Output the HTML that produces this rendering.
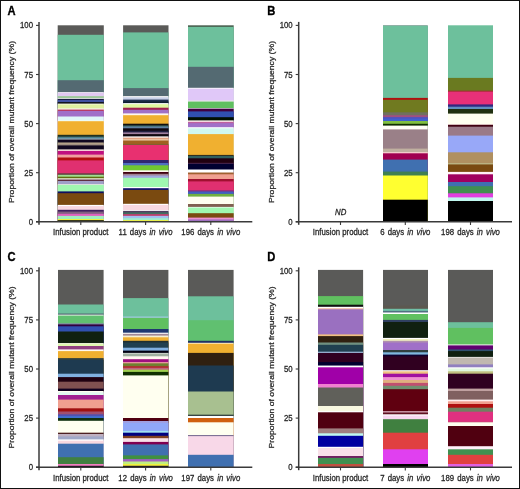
<!DOCTYPE html>
<html><head><meta charset="utf-8"><style>
html,body{margin:0;padding:0;background:#fff;}
body{width:520px;height:489px;overflow:hidden;}
svg{display:block;font-family:"Liberation Sans",sans-serif;}
</style></head><body>
<svg style="will-change:transform" width="520" height="489" viewBox="0 0 520 489">
<rect x="0" y="0" width="520" height="489" fill="#fff"/>
<rect x="57.7" y="25.3" width="46.1" height="196.00" fill="#5a5a58"/>
<rect x="57.7" y="34.8" width="46.1" height="186.50" fill="#6dc09c"/>
<rect x="57.7" y="80.2" width="46.1" height="141.10" fill="#546a72"/>
<rect x="57.7" y="92.1" width="46.1" height="129.20" fill="#f4eef8"/>
<rect x="57.7" y="92.9" width="46.1" height="128.40" fill="#e0c8f0"/>
<rect x="57.7" y="96.1" width="46.1" height="125.20" fill="#9ec89a"/>
<rect x="57.7" y="98.1" width="46.1" height="123.20" fill="#f0f0f0"/>
<rect x="57.7" y="98.9" width="46.1" height="122.40" fill="#101030"/>
<rect x="57.7" y="99.8" width="46.1" height="121.50" fill="#4050a0"/>
<rect x="57.7" y="102.1" width="46.1" height="119.20" fill="#101010"/>
<rect x="57.7" y="103.6" width="46.1" height="117.70" fill="#fffff0"/>
<rect x="57.7" y="104.4" width="46.1" height="116.90" fill="#e0f0a0"/>
<rect x="57.7" y="108.4" width="46.1" height="112.90" fill="#f8f0f0"/>
<rect x="57.7" y="109.6" width="46.1" height="111.70" fill="#c03050"/>
<rect x="57.7" y="110.8" width="46.1" height="110.50" fill="#a070c8"/>
<rect x="57.7" y="116.5" width="46.1" height="104.80" fill="#e0f8f8"/>
<rect x="57.7" y="120.6" width="46.1" height="100.70" fill="#fffff0"/>
<rect x="57.7" y="121.2" width="46.1" height="100.10" fill="#f0b030"/>
<rect x="57.7" y="134.8" width="46.1" height="86.50" fill="#203020"/>
<rect x="57.7" y="136.7" width="46.1" height="84.60" fill="#4a8090"/>
<rect x="57.7" y="138.5" width="46.1" height="82.80" fill="#a0b0c0"/>
<rect x="57.7" y="139.6" width="46.1" height="81.70" fill="#100820"/>
<rect x="57.7" y="142.5" width="46.1" height="78.80" fill="#c0b090"/>
<rect x="57.7" y="143.6" width="46.1" height="77.70" fill="#a09080"/>
<rect x="57.7" y="145.4" width="46.1" height="75.90" fill="#100820"/>
<rect x="57.7" y="149.4" width="46.1" height="71.90" fill="#f8e8e0"/>
<rect x="57.7" y="150.9" width="46.1" height="70.40" fill="#c01080"/>
<rect x="57.7" y="154.6" width="46.1" height="66.70" fill="#f0a0a0"/>
<rect x="57.7" y="157.5" width="46.1" height="63.80" fill="#b01010"/>
<rect x="57.7" y="160.4" width="46.1" height="60.90" fill="#e03070"/>
<rect x="57.7" y="173.3" width="46.1" height="48.00" fill="#604040"/>
<rect x="57.7" y="174.8" width="46.1" height="46.50" fill="#a0e090"/>
<rect x="57.7" y="176.7" width="46.1" height="44.60" fill="#607010"/>
<rect x="57.7" y="178.3" width="46.1" height="43.00" fill="#f8f8f0"/>
<rect x="57.7" y="179.5" width="46.1" height="41.80" fill="#603040"/>
<rect x="57.7" y="181.0" width="46.1" height="40.30" fill="#a0a0c8"/>
<rect x="57.7" y="184.0" width="46.1" height="37.30" fill="#e0e0e0"/>
<rect x="57.7" y="184.9" width="46.1" height="36.40" fill="#a0f8b0"/>
<rect x="57.7" y="191.4" width="46.1" height="29.90" fill="#101060"/>
<rect x="57.7" y="193.2" width="46.1" height="28.10" fill="#7a4a10"/>
<rect x="57.7" y="204.9" width="46.1" height="16.40" fill="#ffffff"/>
<rect x="57.7" y="206.1" width="46.1" height="15.20" fill="#f8d8e0"/>
<rect x="57.7" y="209.8" width="46.1" height="11.50" fill="#402060"/>
<rect x="57.7" y="211.6" width="46.1" height="9.70" fill="#806080"/>
<rect x="57.7" y="213.8" width="46.1" height="7.50" fill="#e060c0"/>
<rect x="57.7" y="215.9" width="46.1" height="5.40" fill="#a0f0c0"/>
<rect x="57.7" y="219.0" width="46.1" height="2.30" fill="#f0f040"/>
<rect x="57.7" y="220.2" width="46.1" height="1.10" fill="#101010"/>
<rect x="123.1" y="25.3" width="45.4" height="196.00" fill="#5a5a58"/>
<rect x="123.1" y="32.4" width="45.4" height="188.90" fill="#6dc09c"/>
<rect x="123.1" y="88.1" width="45.4" height="133.20" fill="#546a72"/>
<rect x="123.1" y="96.1" width="45.4" height="125.20" fill="#f8f8f8"/>
<rect x="123.1" y="97.3" width="45.4" height="124.00" fill="#c8d0e8"/>
<rect x="123.1" y="99.6" width="45.4" height="121.70" fill="#203050"/>
<rect x="123.1" y="101.5" width="45.4" height="119.80" fill="#102030"/>
<rect x="123.1" y="103.1" width="45.4" height="118.20" fill="#ffffff"/>
<rect x="123.1" y="104.2" width="45.4" height="117.10" fill="#e0f8a0"/>
<rect x="123.1" y="107.7" width="45.4" height="113.60" fill="#a02050"/>
<rect x="123.1" y="109.8" width="45.4" height="111.50" fill="#a070c8"/>
<rect x="123.1" y="113.4" width="45.4" height="107.90" fill="#fff8f0"/>
<rect x="123.1" y="115.2" width="45.4" height="106.10" fill="#f0b030"/>
<rect x="123.1" y="123.7" width="45.4" height="97.60" fill="#101010"/>
<rect x="123.1" y="125.5" width="45.4" height="95.80" fill="#407070"/>
<rect x="123.1" y="126.6" width="45.4" height="94.70" fill="#6080a0"/>
<rect x="123.1" y="128.3" width="45.4" height="93.00" fill="#100810"/>
<rect x="123.1" y="130.7" width="45.4" height="90.60" fill="#202040"/>
<rect x="123.1" y="132.4" width="45.4" height="88.90" fill="#a080a0"/>
<rect x="123.1" y="134.1" width="45.4" height="87.20" fill="#100810"/>
<rect x="123.1" y="136.4" width="45.4" height="84.90" fill="#ffffff"/>
<rect x="123.1" y="137.6" width="45.4" height="83.70" fill="#e0a080"/>
<rect x="123.1" y="139.3" width="45.4" height="82.00" fill="#f0d0b0"/>
<rect x="123.1" y="140.5" width="45.4" height="80.80" fill="#a06020"/>
<rect x="123.1" y="143.9" width="45.4" height="77.40" fill="#806030"/>
<rect x="123.1" y="145.0" width="45.4" height="76.30" fill="#e83070"/>
<rect x="123.1" y="160.0" width="45.4" height="61.30" fill="#302870"/>
<rect x="123.1" y="163.0" width="45.4" height="58.30" fill="#5070c0"/>
<rect x="123.1" y="165.3" width="45.4" height="56.00" fill="#70c830"/>
<rect x="123.1" y="170.3" width="45.4" height="51.00" fill="#fff8f0"/>
<rect x="123.1" y="172.0" width="45.4" height="49.30" fill="#400010"/>
<rect x="123.1" y="173.8" width="45.4" height="47.50" fill="#a08090"/>
<rect x="123.1" y="175.5" width="45.4" height="45.80" fill="#a0a8e0"/>
<rect x="123.1" y="177.8" width="45.4" height="43.50" fill="#a0f8b0"/>
<rect x="123.1" y="187.0" width="45.4" height="34.30" fill="#ffffff"/>
<rect x="123.1" y="188.2" width="45.4" height="33.10" fill="#101070"/>
<rect x="123.1" y="189.9" width="45.4" height="31.40" fill="#7a4a10"/>
<rect x="123.1" y="203.8" width="45.4" height="17.50" fill="#ffffff"/>
<rect x="123.1" y="204.9" width="45.4" height="16.40" fill="#f8d8e0"/>
<rect x="123.1" y="210.1" width="45.4" height="11.20" fill="#ffffff"/>
<rect x="123.1" y="210.9" width="45.4" height="10.40" fill="#504060"/>
<rect x="123.1" y="212.4" width="45.4" height="8.90" fill="#407060"/>
<rect x="123.1" y="214.1" width="45.4" height="7.20" fill="#c04070"/>
<rect x="123.1" y="215.9" width="45.4" height="5.40" fill="#a0c0f0"/>
<rect x="123.1" y="218.2" width="45.4" height="3.10" fill="#a0f0d0"/>
<rect x="123.1" y="220.1" width="45.4" height="1.20" fill="#f0f040"/>
<rect x="188.0" y="25.3" width="45.7" height="196.00" fill="#4a6050"/>
<rect x="188.0" y="26.9" width="45.7" height="194.40" fill="#6dc09c"/>
<rect x="188.0" y="66.8" width="45.7" height="154.50" fill="#546a72"/>
<rect x="188.0" y="87.8" width="45.7" height="133.50" fill="#ffffff"/>
<rect x="188.0" y="88.6" width="45.7" height="132.70" fill="#e0c8f8"/>
<rect x="188.0" y="100.5" width="45.7" height="120.80" fill="#e8e8e8"/>
<rect x="188.0" y="101.6" width="45.7" height="119.70" fill="#60c060"/>
<rect x="188.0" y="108.0" width="45.7" height="113.30" fill="#ffffff"/>
<rect x="188.0" y="108.6" width="45.7" height="112.70" fill="#400040"/>
<rect x="188.0" y="111.4" width="45.7" height="109.90" fill="#3050b0"/>
<rect x="188.0" y="117.2" width="45.7" height="104.10" fill="#001000"/>
<rect x="188.0" y="120.4" width="45.7" height="100.90" fill="#fff8f0"/>
<rect x="188.0" y="121.8" width="45.7" height="99.50" fill="#c060a0"/>
<rect x="188.0" y="123.2" width="45.7" height="98.10" fill="#a070c8"/>
<rect x="188.0" y="127.2" width="45.7" height="94.10" fill="#ffffff"/>
<rect x="188.0" y="128.3" width="45.7" height="93.00" fill="#d0f8f0"/>
<rect x="188.0" y="134.1" width="45.7" height="87.20" fill="#f0b030"/>
<rect x="188.0" y="154.9" width="45.7" height="66.40" fill="#303020"/>
<rect x="188.0" y="156.0" width="45.7" height="65.30" fill="#306060"/>
<rect x="188.0" y="158.3" width="45.7" height="63.00" fill="#200010"/>
<rect x="188.0" y="162.9" width="45.7" height="58.40" fill="#804060"/>
<rect x="188.0" y="163.5" width="45.7" height="57.80" fill="#000030"/>
<rect x="188.0" y="169.5" width="45.7" height="51.80" fill="#ffffff"/>
<rect x="188.0" y="172.5" width="45.7" height="48.80" fill="#a06030"/>
<rect x="188.0" y="174.3" width="45.7" height="47.00" fill="#f0a090"/>
<rect x="188.0" y="179.0" width="45.7" height="42.30" fill="#a01030"/>
<rect x="188.0" y="181.4" width="45.7" height="39.90" fill="#e03070"/>
<rect x="188.0" y="190.3" width="45.7" height="31.00" fill="#803080"/>
<rect x="188.0" y="191.5" width="45.7" height="29.80" fill="#4060c0"/>
<rect x="188.0" y="193.9" width="45.7" height="27.40" fill="#70b040"/>
<rect x="188.0" y="196.6" width="45.7" height="24.70" fill="#fffff0"/>
<rect x="188.0" y="204.0" width="45.7" height="17.30" fill="#806050"/>
<rect x="188.0" y="206.9" width="45.7" height="14.40" fill="#ffffff"/>
<rect x="188.0" y="207.5" width="45.7" height="13.80" fill="#a0f8b0"/>
<rect x="188.0" y="213.2" width="45.7" height="8.10" fill="#7a4a10"/>
<rect x="188.0" y="217.6" width="45.7" height="3.70" fill="#f090d0"/>
<rect x="188.0" y="219.4" width="45.7" height="1.90" fill="#a070c0"/>
<rect x="383.0" y="25.3" width="44.8" height="196.00" fill="#609080"/>
<rect x="383.0" y="26.0" width="44.8" height="195.30" fill="#6dc09c"/>
<rect x="383.0" y="97.9" width="44.8" height="123.40" fill="#b01010"/>
<rect x="383.0" y="99.8" width="44.8" height="121.50" fill="#707a20"/>
<rect x="383.0" y="112.3" width="44.8" height="109.00" fill="#707060"/>
<rect x="383.0" y="115.2" width="44.8" height="106.10" fill="#a05080"/>
<rect x="383.0" y="117.1" width="44.8" height="104.20" fill="#5050c0"/>
<rect x="383.0" y="118.6" width="44.8" height="102.70" fill="#4060d0"/>
<rect x="383.0" y="121.0" width="44.8" height="100.30" fill="#80c040"/>
<rect x="383.0" y="123.8" width="44.8" height="97.50" fill="#103000"/>
<rect x="383.0" y="125.6" width="44.8" height="95.70" fill="#fffff8"/>
<rect x="383.0" y="129.4" width="44.8" height="91.90" fill="#9a8088"/>
<rect x="383.0" y="148.6" width="44.8" height="72.70" fill="#c0b0a0"/>
<rect x="383.0" y="152.1" width="44.8" height="69.20" fill="#f8d0d0"/>
<rect x="383.0" y="153.3" width="44.8" height="68.00" fill="#a00050"/>
<rect x="383.0" y="159.6" width="44.8" height="61.70" fill="#4070b0"/>
<rect x="383.0" y="171.6" width="44.8" height="49.70" fill="#408050"/>
<rect x="383.0" y="175.5" width="44.8" height="45.80" fill="#ffff30"/>
<rect x="383.0" y="199.7" width="44.8" height="21.60" fill="#000000"/>
<rect x="448.0" y="25.3" width="45.0" height="196.00" fill="#6dc09c"/>
<rect x="448.0" y="77.9" width="45.0" height="143.40" fill="#6a7a20"/>
<rect x="448.0" y="90.6" width="45.0" height="130.70" fill="#a03030"/>
<rect x="448.0" y="91.7" width="45.0" height="129.60" fill="#e83078"/>
<rect x="448.0" y="104.4" width="45.0" height="116.90" fill="#302880"/>
<rect x="448.0" y="106.7" width="45.0" height="114.60" fill="#6090c0"/>
<rect x="448.0" y="109.0" width="45.0" height="112.30" fill="#203010"/>
<rect x="448.0" y="113.6" width="45.0" height="107.70" fill="#fffff0"/>
<rect x="448.0" y="124.3" width="45.0" height="97.00" fill="#f8e0e0"/>
<rect x="448.0" y="124.8" width="45.0" height="96.50" fill="#400010"/>
<rect x="448.0" y="126.7" width="45.0" height="94.60" fill="#9a7a88"/>
<rect x="448.0" y="135.6" width="45.0" height="85.70" fill="#98a8f8"/>
<rect x="448.0" y="152.3" width="45.0" height="69.00" fill="#b09060"/>
<rect x="448.0" y="163.3" width="45.0" height="58.00" fill="#c0c090"/>
<rect x="448.0" y="164.4" width="45.0" height="56.90" fill="#7a4a10"/>
<rect x="448.0" y="171.9" width="45.0" height="49.40" fill="#fff0f8"/>
<rect x="448.0" y="174.3" width="45.0" height="47.00" fill="#a00060"/>
<rect x="448.0" y="182.0" width="45.0" height="39.30" fill="#4070b0"/>
<rect x="448.0" y="186.2" width="45.0" height="35.10" fill="#409050"/>
<rect x="448.0" y="193.3" width="45.0" height="28.00" fill="#e040e0"/>
<rect x="448.0" y="197.4" width="45.0" height="23.90" fill="#c0f8f0"/>
<rect x="448.0" y="201.0" width="45.0" height="20.30" fill="#000000"/>
<rect x="58.0" y="269.9" width="45.6" height="197.10" fill="#5a5a58"/>
<rect x="58.0" y="304.5" width="45.6" height="162.50" fill="#6dc09c"/>
<rect x="58.0" y="313.5" width="45.6" height="153.50" fill="#546a72"/>
<rect x="58.0" y="314.7" width="45.6" height="152.30" fill="#ffffff"/>
<rect x="58.0" y="315.5" width="45.6" height="151.50" fill="#60c070"/>
<rect x="58.0" y="323.2" width="45.6" height="143.80" fill="#8090a0"/>
<rect x="58.0" y="324.4" width="45.6" height="142.60" fill="#300040"/>
<rect x="58.0" y="326.3" width="45.6" height="140.70" fill="#3050b0"/>
<rect x="58.0" y="331.5" width="45.6" height="135.50" fill="#102010"/>
<rect x="58.0" y="343.1" width="45.6" height="123.90" fill="#ffffff"/>
<rect x="58.0" y="343.6" width="45.6" height="123.40" fill="#e0f8b0"/>
<rect x="58.0" y="346.0" width="45.6" height="121.00" fill="#904080"/>
<rect x="58.0" y="349.4" width="45.6" height="117.60" fill="#fff8f0"/>
<rect x="58.0" y="351.1" width="45.6" height="115.90" fill="#f0b030"/>
<rect x="58.0" y="358.1" width="45.6" height="108.90" fill="#304040"/>
<rect x="58.0" y="359.8" width="45.6" height="107.20" fill="#1e3a50"/>
<rect x="58.0" y="373.7" width="45.6" height="93.30" fill="#80b0e0"/>
<rect x="58.0" y="377.1" width="45.6" height="89.90" fill="#200010"/>
<rect x="58.0" y="381.7" width="45.6" height="85.30" fill="#805050"/>
<rect x="58.0" y="388.6" width="45.6" height="78.40" fill="#100020"/>
<rect x="58.0" y="391.0" width="45.6" height="76.00" fill="#fffff0"/>
<rect x="58.0" y="392.2" width="45.6" height="74.80" fill="#e0f8f0"/>
<rect x="58.0" y="395.0" width="45.6" height="72.00" fill="#a02090"/>
<rect x="58.0" y="399.6" width="45.6" height="67.40" fill="#f0a090"/>
<rect x="58.0" y="408.3" width="45.6" height="58.70" fill="#a01010"/>
<rect x="58.0" y="411.5" width="45.6" height="55.50" fill="#a05070"/>
<rect x="58.0" y="414.3" width="45.6" height="52.70" fill="#5050b0"/>
<rect x="58.0" y="416.1" width="45.6" height="50.90" fill="#4070d0"/>
<rect x="58.0" y="418.0" width="45.6" height="49.00" fill="#103010"/>
<rect x="58.0" y="420.8" width="45.6" height="46.20" fill="#fffff0"/>
<rect x="58.0" y="432.7" width="45.6" height="34.30" fill="#401010"/>
<rect x="58.0" y="433.9" width="45.6" height="33.10" fill="#c0b0c0"/>
<rect x="58.0" y="436.4" width="45.6" height="30.60" fill="#a0a8c8"/>
<rect x="58.0" y="439.4" width="45.6" height="27.60" fill="#ffffff"/>
<rect x="58.0" y="440.7" width="45.6" height="26.30" fill="#f8d8e0"/>
<rect x="58.0" y="443.7" width="45.6" height="23.30" fill="#4070b0"/>
<rect x="58.0" y="457.2" width="45.6" height="9.80" fill="#408040"/>
<rect x="58.0" y="464.0" width="45.6" height="3.00" fill="#f080c0"/>
<rect x="58.0" y="465.8" width="45.6" height="1.20" fill="#100010"/>
<rect x="123.0" y="269.9" width="45.4" height="197.10" fill="#5a5a58"/>
<rect x="123.0" y="298.1" width="45.4" height="168.90" fill="#6dc09c"/>
<rect x="123.0" y="316.5" width="45.4" height="150.50" fill="#a0c8e0"/>
<rect x="123.0" y="317.8" width="45.4" height="149.20" fill="#60c060"/>
<rect x="123.0" y="329.0" width="45.4" height="138.00" fill="#203870"/>
<rect x="123.0" y="332.7" width="45.4" height="134.30" fill="#ffffff"/>
<rect x="123.0" y="333.8" width="45.4" height="133.20" fill="#a08898"/>
<rect x="123.0" y="335.6" width="45.4" height="131.40" fill="#f8f0d0"/>
<rect x="123.0" y="337.3" width="45.4" height="129.70" fill="#f0b030"/>
<rect x="123.0" y="340.8" width="45.4" height="126.20" fill="#203030"/>
<rect x="123.0" y="342.5" width="45.4" height="124.50" fill="#204050"/>
<rect x="123.0" y="347.7" width="45.4" height="119.30" fill="#80b0e0"/>
<rect x="123.0" y="350.6" width="45.4" height="116.40" fill="#000010"/>
<rect x="123.0" y="352.9" width="45.4" height="114.10" fill="#ffffff"/>
<rect x="123.0" y="353.4" width="45.4" height="113.60" fill="#a0b0a0"/>
<rect x="123.0" y="356.3" width="45.4" height="110.70" fill="#fff8f0"/>
<rect x="123.0" y="359.2" width="45.4" height="107.80" fill="#a01080"/>
<rect x="123.0" y="362.1" width="45.4" height="104.90" fill="#f0a0a0"/>
<rect x="123.0" y="363.3" width="45.4" height="103.70" fill="#708030"/>
<rect x="123.0" y="366.1" width="45.4" height="100.90" fill="#b03030"/>
<rect x="123.0" y="367.9" width="45.4" height="99.10" fill="#c06080"/>
<rect x="123.0" y="369.6" width="45.4" height="97.40" fill="#a0d050"/>
<rect x="123.0" y="371.9" width="45.4" height="95.10" fill="#103000"/>
<rect x="123.0" y="375.4" width="45.4" height="91.60" fill="#fffff0"/>
<rect x="123.0" y="418.0" width="45.4" height="49.00" fill="#500010"/>
<rect x="123.0" y="421.0" width="45.4" height="46.00" fill="#a0a0e0"/>
<rect x="123.0" y="422.9" width="45.4" height="44.10" fill="#90a8f8"/>
<rect x="123.0" y="430.9" width="45.4" height="36.10" fill="#a0e0f0"/>
<rect x="123.0" y="432.7" width="45.4" height="34.30" fill="#000080"/>
<rect x="123.0" y="435.8" width="45.4" height="31.20" fill="#804020"/>
<rect x="123.0" y="438.2" width="45.4" height="28.80" fill="#f8e0e8"/>
<rect x="123.0" y="441.9" width="45.4" height="25.10" fill="#800050"/>
<rect x="123.0" y="444.4" width="45.4" height="22.60" fill="#4070b0"/>
<rect x="123.0" y="455.4" width="45.4" height="11.60" fill="#409040"/>
<rect x="123.0" y="459.1" width="45.4" height="7.90" fill="#a060c0"/>
<rect x="123.0" y="461.5" width="45.4" height="5.50" fill="#c0f080"/>
<rect x="123.0" y="464.0" width="45.4" height="3.00" fill="#f0f040"/>
<rect x="123.0" y="465.8" width="45.4" height="1.20" fill="#100010"/>
<rect x="188.0" y="269.9" width="45.6" height="197.10" fill="#5a5a58"/>
<rect x="188.0" y="296.3" width="45.6" height="170.70" fill="#6dc09c"/>
<rect x="188.0" y="320.2" width="45.6" height="146.80" fill="#60c070"/>
<rect x="188.0" y="340.8" width="45.6" height="126.20" fill="#203060"/>
<rect x="188.0" y="342.8" width="45.6" height="124.20" fill="#fffff0"/>
<rect x="188.0" y="343.6" width="45.6" height="123.40" fill="#f0b030"/>
<rect x="188.0" y="352.9" width="45.6" height="114.10" fill="#302010"/>
<rect x="188.0" y="365.5" width="45.6" height="101.50" fill="#1e3a50"/>
<rect x="188.0" y="391.5" width="45.6" height="75.50" fill="#a8c090"/>
<rect x="188.0" y="414.7" width="45.6" height="52.30" fill="#203030"/>
<rect x="188.0" y="415.9" width="45.6" height="51.10" fill="#ffffff"/>
<rect x="188.0" y="418.0" width="45.6" height="49.00" fill="#d06010"/>
<rect x="188.0" y="422.3" width="45.6" height="44.70" fill="#fffff0"/>
<rect x="188.0" y="435.2" width="45.6" height="31.80" fill="#605080"/>
<rect x="188.0" y="436.1" width="45.6" height="30.90" fill="#f8d8e8"/>
<rect x="188.0" y="454.8" width="45.6" height="12.20" fill="#4070b0"/>
<rect x="318.0" y="269.9" width="45.1" height="197.10" fill="#5a5a58"/>
<rect x="318.0" y="296.1" width="45.1" height="170.90" fill="#60c060"/>
<rect x="318.0" y="304.7" width="45.1" height="162.30" fill="#101010"/>
<rect x="318.0" y="306.8" width="45.1" height="160.20" fill="#ffffff"/>
<rect x="318.0" y="308.2" width="45.1" height="158.80" fill="#f0b8a0"/>
<rect x="318.0" y="309.3" width="45.1" height="157.70" fill="#9a70c0"/>
<rect x="318.0" y="334.4" width="45.1" height="132.60" fill="#f0c080"/>
<rect x="318.0" y="336.1" width="45.1" height="130.90" fill="#302010"/>
<rect x="318.0" y="342.5" width="45.1" height="124.50" fill="#709080"/>
<rect x="318.0" y="344.8" width="45.1" height="122.20" fill="#204050"/>
<rect x="318.0" y="351.7" width="45.1" height="115.30" fill="#a0c0e0"/>
<rect x="318.0" y="352.9" width="45.1" height="114.10" fill="#300020"/>
<rect x="318.0" y="362.1" width="45.1" height="104.90" fill="#000030"/>
<rect x="318.0" y="365.0" width="45.1" height="102.00" fill="#707090"/>
<rect x="318.0" y="366.0" width="45.1" height="101.00" fill="#ffffff"/>
<rect x="318.0" y="367.3" width="45.1" height="99.70" fill="#a000a8"/>
<rect x="318.0" y="384.0" width="45.1" height="83.00" fill="#f080d0"/>
<rect x="318.0" y="387.5" width="45.1" height="79.50" fill="#60605a"/>
<rect x="318.0" y="406.0" width="45.1" height="61.00" fill="#f8f8e0"/>
<rect x="318.0" y="411.1" width="45.1" height="55.90" fill="#ffffff"/>
<rect x="318.0" y="412.3" width="45.1" height="54.70" fill="#500010"/>
<rect x="318.0" y="428.4" width="45.1" height="38.60" fill="#a08080"/>
<rect x="318.0" y="433.3" width="45.1" height="33.70" fill="#c0f8f0"/>
<rect x="318.0" y="435.8" width="45.1" height="31.20" fill="#0000a0"/>
<rect x="318.0" y="446.8" width="45.1" height="20.20" fill="#ffffff"/>
<rect x="318.0" y="448.0" width="45.1" height="19.00" fill="#f8e0e8"/>
<rect x="318.0" y="456.0" width="45.1" height="11.00" fill="#702060"/>
<rect x="318.0" y="457.9" width="45.1" height="9.10" fill="#409050"/>
<rect x="318.0" y="464.0" width="45.1" height="3.00" fill="#c05040"/>
<rect x="383.0" y="269.9" width="45.0" height="197.10" fill="#5a5a58"/>
<rect x="383.0" y="305.6" width="45.0" height="161.40" fill="#5c5850"/>
<rect x="383.0" y="308.8" width="45.0" height="158.20" fill="#70c0a8"/>
<rect x="383.0" y="310.9" width="45.0" height="156.10" fill="#507080"/>
<rect x="383.0" y="312.5" width="45.0" height="154.50" fill="#ffffff"/>
<rect x="383.0" y="314.0" width="45.0" height="153.00" fill="#60c060"/>
<rect x="383.0" y="319.9" width="45.0" height="147.10" fill="#304060"/>
<rect x="383.0" y="322.0" width="45.0" height="145.00" fill="#102010"/>
<rect x="383.0" y="337.9" width="45.0" height="129.10" fill="#ffffff"/>
<rect x="383.0" y="339.0" width="45.0" height="128.00" fill="#f0f0c0"/>
<rect x="383.0" y="340.8" width="45.0" height="126.20" fill="#b090b0"/>
<rect x="383.0" y="342.5" width="45.0" height="124.50" fill="#a070c8"/>
<rect x="383.0" y="350.0" width="45.0" height="117.00" fill="#304040"/>
<rect x="383.0" y="352.3" width="45.0" height="114.70" fill="#80b8e0"/>
<rect x="383.0" y="354.6" width="45.0" height="112.40" fill="#100030"/>
<rect x="383.0" y="356.3" width="45.0" height="110.70" fill="#300020"/>
<rect x="383.0" y="370.2" width="45.0" height="96.80" fill="#ffffff"/>
<rect x="383.0" y="371.3" width="45.0" height="95.70" fill="#f0c080"/>
<rect x="383.0" y="373.7" width="45.0" height="93.30" fill="#a010a0"/>
<rect x="383.0" y="377.1" width="45.0" height="89.90" fill="#f090d0"/>
<rect x="383.0" y="380.0" width="45.0" height="87.00" fill="#e0b080"/>
<rect x="383.0" y="382.9" width="45.0" height="84.10" fill="#c05070"/>
<rect x="383.0" y="385.8" width="45.0" height="81.20" fill="#709070"/>
<rect x="383.0" y="389.2" width="45.0" height="77.80" fill="#600010"/>
<rect x="383.0" y="411.1" width="45.0" height="55.90" fill="#d0a0b0"/>
<rect x="383.0" y="412.5" width="45.0" height="54.50" fill="#601020"/>
<rect x="383.0" y="414.3" width="45.0" height="52.70" fill="#ffffff"/>
<rect x="383.0" y="415.5" width="45.0" height="51.50" fill="#f8d8f0"/>
<rect x="383.0" y="419.2" width="45.0" height="47.80" fill="#408040"/>
<rect x="383.0" y="432.7" width="45.0" height="34.30" fill="#e04040"/>
<rect x="383.0" y="449.3" width="45.0" height="17.70" fill="#e040f0"/>
<rect x="383.0" y="464.0" width="45.0" height="3.00" fill="#000000"/>
<rect x="448.0" y="269.9" width="45.0" height="197.10" fill="#5a5a58"/>
<rect x="448.0" y="322.2" width="45.0" height="144.80" fill="#6dc09c"/>
<rect x="448.0" y="327.9" width="45.0" height="139.10" fill="#60c060"/>
<rect x="448.0" y="344.4" width="45.0" height="122.60" fill="#f0f0f0"/>
<rect x="448.0" y="345.4" width="45.0" height="121.60" fill="#600070"/>
<rect x="448.0" y="349.4" width="45.0" height="117.60" fill="#305070"/>
<rect x="448.0" y="351.1" width="45.0" height="115.90" fill="#102010"/>
<rect x="448.0" y="356.9" width="45.0" height="110.10" fill="#ffffff"/>
<rect x="448.0" y="357.5" width="45.0" height="109.50" fill="#c0b8b0"/>
<rect x="448.0" y="364.4" width="45.0" height="102.60" fill="#9080c0"/>
<rect x="448.0" y="367.3" width="45.0" height="99.70" fill="#ffffff"/>
<rect x="448.0" y="368.5" width="45.0" height="98.50" fill="#e0f8e0"/>
<rect x="448.0" y="371.3" width="45.0" height="95.70" fill="#c0c080"/>
<rect x="448.0" y="373.7" width="45.0" height="93.30" fill="#300020"/>
<rect x="448.0" y="388.6" width="45.0" height="78.40" fill="#c0a0a0"/>
<rect x="448.0" y="391.0" width="45.0" height="76.00" fill="#806060"/>
<rect x="448.0" y="399.6" width="45.0" height="67.40" fill="#fff0f0"/>
<rect x="448.0" y="401.3" width="45.0" height="65.70" fill="#f0a090"/>
<rect x="448.0" y="404.0" width="45.0" height="63.00" fill="#b01010"/>
<rect x="448.0" y="407.7" width="45.0" height="59.30" fill="#708060"/>
<rect x="448.0" y="411.7" width="45.0" height="55.30" fill="#e03080"/>
<rect x="448.0" y="421.7" width="45.0" height="45.30" fill="#c05070"/>
<rect x="448.0" y="422.3" width="45.0" height="44.70" fill="#fffff0"/>
<rect x="448.0" y="426.0" width="45.0" height="41.00" fill="#500010"/>
<rect x="448.0" y="446.2" width="45.0" height="20.80" fill="#fff0f8"/>
<rect x="448.0" y="449.3" width="45.0" height="17.70" fill="#409050"/>
<rect x="448.0" y="454.8" width="45.0" height="12.20" fill="#e04040"/>
<rect x="448.0" y="464.0" width="45.0" height="3.00" fill="#e060e0"/>
<text transform="translate(7.60,14.80) scale(1,1.06)" font-size="11.2" font-weight="bold" fill="#000" stroke="#000" stroke-width="0.3">A</text>
<line x1="39.00" y1="21.90" x2="39.00" y2="224.80" stroke="#3a3a3a" stroke-width="1.5"/>
<line x1="36.00" y1="221.80" x2="252.30" y2="221.80" stroke="#3a3a3a" stroke-width="1.5"/>
<line x1="36.00" y1="25.40" x2="39.00" y2="25.40" stroke="#3a3a3a" stroke-width="1.1"/>
<text transform="translate(33.00,28.40) scale(1,1.1)" font-size="7.8" text-anchor="end" fill="#262626" stroke="#262626" stroke-width="0.25" >100</text>
<line x1="36.00" y1="74.50" x2="39.00" y2="74.50" stroke="#3a3a3a" stroke-width="1.1"/>
<text transform="translate(33.00,77.50) scale(1,1.1)" font-size="7.8" text-anchor="end" fill="#262626" stroke="#262626" stroke-width="0.25" >75</text>
<line x1="36.00" y1="123.60" x2="39.00" y2="123.60" stroke="#3a3a3a" stroke-width="1.1"/>
<text transform="translate(33.00,126.60) scale(1,1.1)" font-size="7.8" text-anchor="end" fill="#262626" stroke="#262626" stroke-width="0.25" >50</text>
<line x1="36.00" y1="172.70" x2="39.00" y2="172.70" stroke="#3a3a3a" stroke-width="1.1"/>
<text transform="translate(33.00,175.70) scale(1,1.1)" font-size="7.8" text-anchor="end" fill="#262626" stroke="#262626" stroke-width="0.25" >25</text>
<line x1="36.00" y1="221.80" x2="39.00" y2="221.80" stroke="#3a3a3a" stroke-width="1.1"/>
<text transform="translate(33.00,224.80) scale(1,1.1)" font-size="7.8" text-anchor="end" fill="#262626" stroke="#262626" stroke-width="0.25" >0</text>
<line x1="80.80" y1="221.80" x2="80.80" y2="225.00" stroke="#3a3a3a" stroke-width="1.1"/>
<text transform="translate(80.80,235.30) scale(1,1.1)" font-size="7.8" text-anchor="middle" fill="#262626" stroke="#262626" stroke-width="0.25" >Infusion product</text>
<line x1="145.60" y1="221.80" x2="145.60" y2="225.00" stroke="#3a3a3a" stroke-width="1.1"/>
<text transform="translate(145.60,235.30) scale(1,1.1)" font-size="7.8" text-anchor="middle" fill="#262626" stroke="#262626" stroke-width="0.25" word-spacing="1">11 days <tspan font-style="italic">in vivo</tspan></text>
<line x1="210.80" y1="221.80" x2="210.80" y2="225.00" stroke="#3a3a3a" stroke-width="1.1"/>
<text transform="translate(210.80,235.30) scale(1,1.1)" font-size="7.8" text-anchor="middle" fill="#262626" stroke="#262626" stroke-width="0.25" word-spacing="1">196 days <tspan font-style="italic">in vivo</tspan></text>
<text transform="translate(13.90,122.00) rotate(-90) scale(1.08,1)" font-size="8.0" text-anchor="middle" fill="#262626" stroke="#262626" stroke-width="0.25">Proportion of overall mutant frequency (%)</text>
<text transform="translate(267.30,14.80) scale(1,1.06)" font-size="11.2" font-weight="bold" fill="#000" stroke="#000" stroke-width="0.3">B</text>
<line x1="298.70" y1="21.90" x2="298.70" y2="224.80" stroke="#3a3a3a" stroke-width="1.5"/>
<line x1="295.70" y1="221.80" x2="512.00" y2="221.80" stroke="#3a3a3a" stroke-width="1.5"/>
<line x1="295.70" y1="25.40" x2="298.70" y2="25.40" stroke="#3a3a3a" stroke-width="1.1"/>
<text transform="translate(292.70,28.40) scale(1,1.1)" font-size="7.8" text-anchor="end" fill="#262626" stroke="#262626" stroke-width="0.25" >100</text>
<line x1="295.70" y1="74.50" x2="298.70" y2="74.50" stroke="#3a3a3a" stroke-width="1.1"/>
<text transform="translate(292.70,77.50) scale(1,1.1)" font-size="7.8" text-anchor="end" fill="#262626" stroke="#262626" stroke-width="0.25" >75</text>
<line x1="295.70" y1="123.60" x2="298.70" y2="123.60" stroke="#3a3a3a" stroke-width="1.1"/>
<text transform="translate(292.70,126.60) scale(1,1.1)" font-size="7.8" text-anchor="end" fill="#262626" stroke="#262626" stroke-width="0.25" >50</text>
<line x1="295.70" y1="172.70" x2="298.70" y2="172.70" stroke="#3a3a3a" stroke-width="1.1"/>
<text transform="translate(292.70,175.70) scale(1,1.1)" font-size="7.8" text-anchor="end" fill="#262626" stroke="#262626" stroke-width="0.25" >25</text>
<line x1="295.70" y1="221.80" x2="298.70" y2="221.80" stroke="#3a3a3a" stroke-width="1.1"/>
<text transform="translate(292.70,224.80) scale(1,1.1)" font-size="7.8" text-anchor="end" fill="#262626" stroke="#262626" stroke-width="0.25" >0</text>
<line x1="340.50" y1="221.80" x2="340.50" y2="225.00" stroke="#3a3a3a" stroke-width="1.1"/>
<text transform="translate(340.50,235.30) scale(1,1.1)" font-size="7.8" text-anchor="middle" fill="#262626" stroke="#262626" stroke-width="0.25" >Infusion product</text>
<line x1="405.30" y1="221.80" x2="405.30" y2="225.00" stroke="#3a3a3a" stroke-width="1.1"/>
<text transform="translate(405.30,235.30) scale(1,1.1)" font-size="7.8" text-anchor="middle" fill="#262626" stroke="#262626" stroke-width="0.25" word-spacing="1">6 days <tspan font-style="italic">in vivo</tspan></text>
<line x1="470.50" y1="221.80" x2="470.50" y2="225.00" stroke="#3a3a3a" stroke-width="1.1"/>
<text transform="translate(470.50,235.30) scale(1,1.1)" font-size="7.8" text-anchor="middle" fill="#262626" stroke="#262626" stroke-width="0.25" word-spacing="1">198 days <tspan font-style="italic">in vivo</tspan></text>
<text transform="translate(273.60,122.00) rotate(-90) scale(1.08,1)" font-size="8.0" text-anchor="middle" fill="#262626" stroke="#262626" stroke-width="0.25">Proportion of overall mutant frequency (%)</text>
<text transform="translate(7.60,260.80) scale(1,1.06)" font-size="11.2" font-weight="bold" fill="#000" stroke="#000" stroke-width="0.3">C</text>
<line x1="39.00" y1="267.30" x2="39.00" y2="470.20" stroke="#3a3a3a" stroke-width="1.5"/>
<line x1="36.00" y1="467.20" x2="252.30" y2="467.20" stroke="#3a3a3a" stroke-width="1.5"/>
<line x1="36.00" y1="270.80" x2="39.00" y2="270.80" stroke="#3a3a3a" stroke-width="1.1"/>
<text transform="translate(33.00,273.80) scale(1,1.1)" font-size="7.8" text-anchor="end" fill="#262626" stroke="#262626" stroke-width="0.25" >100</text>
<line x1="36.00" y1="319.90" x2="39.00" y2="319.90" stroke="#3a3a3a" stroke-width="1.1"/>
<text transform="translate(33.00,322.90) scale(1,1.1)" font-size="7.8" text-anchor="end" fill="#262626" stroke="#262626" stroke-width="0.25" >75</text>
<line x1="36.00" y1="369.00" x2="39.00" y2="369.00" stroke="#3a3a3a" stroke-width="1.1"/>
<text transform="translate(33.00,372.00) scale(1,1.1)" font-size="7.8" text-anchor="end" fill="#262626" stroke="#262626" stroke-width="0.25" >50</text>
<line x1="36.00" y1="418.10" x2="39.00" y2="418.10" stroke="#3a3a3a" stroke-width="1.1"/>
<text transform="translate(33.00,421.10) scale(1,1.1)" font-size="7.8" text-anchor="end" fill="#262626" stroke="#262626" stroke-width="0.25" >25</text>
<line x1="36.00" y1="467.20" x2="39.00" y2="467.20" stroke="#3a3a3a" stroke-width="1.1"/>
<text transform="translate(33.00,470.20) scale(1,1.1)" font-size="7.8" text-anchor="end" fill="#262626" stroke="#262626" stroke-width="0.25" >0</text>
<line x1="80.80" y1="467.20" x2="80.80" y2="470.40" stroke="#3a3a3a" stroke-width="1.1"/>
<text transform="translate(80.80,480.70) scale(1,1.1)" font-size="7.8" text-anchor="middle" fill="#262626" stroke="#262626" stroke-width="0.25" >Infusion product</text>
<line x1="145.60" y1="467.20" x2="145.60" y2="470.40" stroke="#3a3a3a" stroke-width="1.1"/>
<text transform="translate(145.60,480.70) scale(1,1.1)" font-size="7.8" text-anchor="middle" fill="#262626" stroke="#262626" stroke-width="0.25" word-spacing="1">12 days <tspan font-style="italic">in vivo</tspan></text>
<line x1="210.80" y1="467.20" x2="210.80" y2="470.40" stroke="#3a3a3a" stroke-width="1.1"/>
<text transform="translate(210.80,480.70) scale(1,1.1)" font-size="7.8" text-anchor="middle" fill="#262626" stroke="#262626" stroke-width="0.25" word-spacing="1">197 days <tspan font-style="italic">in vivo</tspan></text>
<text transform="translate(13.90,367.40) rotate(-90) scale(1.08,1)" font-size="8.0" text-anchor="middle" fill="#262626" stroke="#262626" stroke-width="0.25">Proportion of overall mutant frequency (%)</text>
<text transform="translate(267.30,260.80) scale(1,1.06)" font-size="11.2" font-weight="bold" fill="#000" stroke="#000" stroke-width="0.3">D</text>
<line x1="298.70" y1="267.30" x2="298.70" y2="470.20" stroke="#3a3a3a" stroke-width="1.5"/>
<line x1="295.70" y1="467.20" x2="512.00" y2="467.20" stroke="#3a3a3a" stroke-width="1.5"/>
<line x1="295.70" y1="270.80" x2="298.70" y2="270.80" stroke="#3a3a3a" stroke-width="1.1"/>
<text transform="translate(292.70,273.80) scale(1,1.1)" font-size="7.8" text-anchor="end" fill="#262626" stroke="#262626" stroke-width="0.25" >100</text>
<line x1="295.70" y1="319.90" x2="298.70" y2="319.90" stroke="#3a3a3a" stroke-width="1.1"/>
<text transform="translate(292.70,322.90) scale(1,1.1)" font-size="7.8" text-anchor="end" fill="#262626" stroke="#262626" stroke-width="0.25" >75</text>
<line x1="295.70" y1="369.00" x2="298.70" y2="369.00" stroke="#3a3a3a" stroke-width="1.1"/>
<text transform="translate(292.70,372.00) scale(1,1.1)" font-size="7.8" text-anchor="end" fill="#262626" stroke="#262626" stroke-width="0.25" >50</text>
<line x1="295.70" y1="418.10" x2="298.70" y2="418.10" stroke="#3a3a3a" stroke-width="1.1"/>
<text transform="translate(292.70,421.10) scale(1,1.1)" font-size="7.8" text-anchor="end" fill="#262626" stroke="#262626" stroke-width="0.25" >25</text>
<line x1="295.70" y1="467.20" x2="298.70" y2="467.20" stroke="#3a3a3a" stroke-width="1.1"/>
<text transform="translate(292.70,470.20) scale(1,1.1)" font-size="7.8" text-anchor="end" fill="#262626" stroke="#262626" stroke-width="0.25" >0</text>
<line x1="340.50" y1="467.20" x2="340.50" y2="470.40" stroke="#3a3a3a" stroke-width="1.1"/>
<text transform="translate(340.50,480.70) scale(1,1.1)" font-size="7.8" text-anchor="middle" fill="#262626" stroke="#262626" stroke-width="0.25" >Infusion product</text>
<line x1="405.30" y1="467.20" x2="405.30" y2="470.40" stroke="#3a3a3a" stroke-width="1.1"/>
<text transform="translate(405.30,480.70) scale(1,1.1)" font-size="7.8" text-anchor="middle" fill="#262626" stroke="#262626" stroke-width="0.25" word-spacing="1">7 days <tspan font-style="italic">in vivo</tspan></text>
<line x1="470.50" y1="467.20" x2="470.50" y2="470.40" stroke="#3a3a3a" stroke-width="1.1"/>
<text transform="translate(470.50,480.70) scale(1,1.1)" font-size="7.8" text-anchor="middle" fill="#262626" stroke="#262626" stroke-width="0.25" word-spacing="1">189 days <tspan font-style="italic">in vivo</tspan></text>
<text transform="translate(273.60,367.40) rotate(-90) scale(1.08,1)" font-size="8.0" text-anchor="middle" fill="#262626" stroke="#262626" stroke-width="0.25">Proportion of overall mutant frequency (%)</text>
<text transform="translate(340.70,214.60) scale(1,1.1)" font-size="7.8" text-anchor="middle" fill="#262626" stroke="#262626" stroke-width="0.25" font-style="italic">ND</text>
<rect x="0.5" y="0.5" width="519" height="488" fill="none" stroke="#111" stroke-width="1"/>
</svg>
</body></html>
